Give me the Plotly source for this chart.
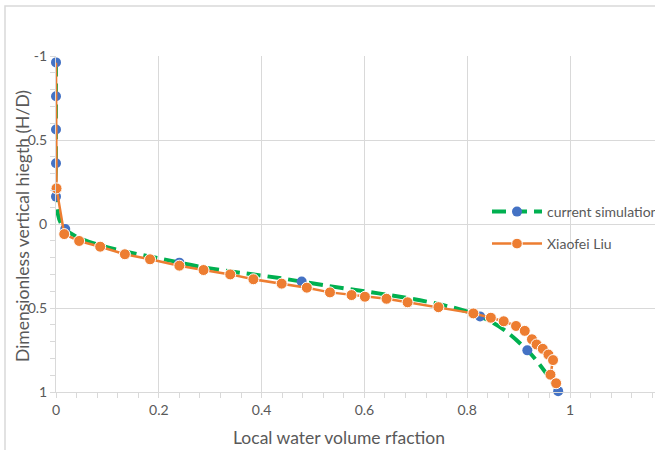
import plotly.graph_objects as go

# ---- data ----
sim_x = [0.0, 0.0, 0.0, 0.0, 0.0, 0.018, 0.24, 0.478, 0.825, 0.917, 0.977]
sim_y = [-0.962, -0.76, -0.562, -0.362, -0.163, 0.03, 0.23, 0.343, 0.55, 0.752, 0.995]

liu_x = [0.0, 0.001, 0.016, 0.045, 0.086, 0.134, 0.183, 0.24, 0.287, 0.339, 0.384,
         0.439, 0.488, 0.533, 0.575, 0.601, 0.643, 0.684, 0.744, 0.812, 0.846,
         0.871, 0.895, 0.912, 0.926, 0.935, 0.947, 0.958, 0.967, 0.962, 0.973]
liu_y = [-0.96, -0.212, 0.06, 0.101, 0.135, 0.18, 0.21, 0.248, 0.274, 0.30, 0.329,
         0.355, 0.379, 0.407, 0.423, 0.433, 0.445, 0.466, 0.495, 0.532, 0.558,
         0.579, 0.607, 0.636, 0.686, 0.717, 0.743, 0.777, 0.81, 0.897, 0.948]

series_names = ["current simulation", "Xiaofei Liu"]
x_tickvals = [0, 0.2, 0.4, 0.6, 0.8, 1]
x_ticktext = ["0", "0.2", "0.4", "0.6", "0.8", "1"]
y_tickvals = [-1, -0.5, 0, 0.5, 1]
y_ticktext = ["-1", "-0.5", "0", "0.5", "1"]
x_title = "Local water volume rfaction"
y_title = "Dimensionless vertical hiegth (H/D)"

FONT = "Lato"
TXT = "#595959"
GRID = "#D9D9D9"

W, H = 655, 450
ML, MR, MT, MB = 56, 0, 56, 58
PW = W - ML - MR
PH = H - MT - MB

def px_x(p):
    return (p - ML) / PW

def px_y(p):
    return (H - MB - p) / PH

fig = go.Figure()
fig.add_trace(go.Scatter(
    x=sim_x, y=sim_y, name=series_names[0], mode="lines+markers",
    line=dict(color="#00B050", width=4, dash="14px,7px", shape="spline"),
    marker=dict(color="#4472C4", size=10),
    cliponaxis=False, legend="legend",
))
liu_sizes = [0] + [11] * (len(liu_x) - 1)
fig.add_trace(go.Scatter(
    x=liu_x, y=liu_y, name=series_names[1], mode="lines+markers",
    line=dict(color="#ED7D31", width=2.5),
    marker=dict(color="#ED7D31", size=liu_sizes, opacity=1),
    cliponaxis=False, legend="legend2",
))

LEG_X = px_x(487)
fig.update_layout(
    width=W, height=H,
    margin=dict(l=ML, r=MR, t=MT, b=MB, autoexpand=False),
    paper_bgcolor="white", plot_bgcolor="white",
    font=dict(family=FONT, color=TXT, size=14),
    showlegend=True,
    legend=dict(x=LEG_X, y=px_y(212), xanchor="left", yanchor="middle",
                bgcolor="rgba(0,0,0,0)", font=dict(size=14, color=TXT),
                itemwidth=50),
    legend2=dict(x=LEG_X, y=px_y(244), xanchor="left", yanchor="middle",
                 bgcolor="rgba(0,0,0,0)", font=dict(size=14, color=TXT),
                 itemwidth=50),
)

fig.update_xaxes(
    range=[0, (W - ML) / 514.0], tickvals=x_tickvals, ticktext=x_ticktext,
    showgrid=True, gridcolor=GRID, gridwidth=1,
    showline=True, linecolor=GRID, linewidth=1,
    ticks="outside", ticklen=5, tickcolor=GRID,
    minor=dict(dtick=0.04, tick0=0, ticks="outside", ticklen=5, tickcolor=GRID, showgrid=False),
    zeroline=False, tickfont=dict(size=14, color=TXT),
)
fig.update_yaxes(
    range=[1, -1], tickvals=y_tickvals, ticktext=y_ticktext,
    showgrid=True, gridcolor=GRID, gridwidth=1,
    showline=True, linecolor=GRID, linewidth=1,
    ticks="outside", ticklen=5, tickcolor=GRID,
    minor=dict(dtick=0.1, tick0=0, ticks="outside", ticklen=5, tickcolor=GRID, showgrid=False),
    zeroline=False, tickfont=dict(size=14, color=TXT),
)

fig.add_annotation(text=y_title, xref="paper", yref="paper",
                   x=px_x(22), y=px_y(226), xanchor="center", yanchor="middle",
                   textangle=-90, showarrow=False, font=dict(size=17.5, color=TXT))
fig.add_annotation(text=x_title, xref="paper", yref="paper",
                   x=px_x(339), y=px_y(437), xanchor="center", yanchor="middle",
                   showarrow=False, font=dict(size=17.5, color=TXT))

# chart-area border
fig.add_shape(type="rect", xref="paper", yref="paper",
              x0=px_x(5), x1=px_x(700), y0=px_y(500), y1=px_y(6),
              line=dict(color=GRID, width=1.5), layer="below")

fig.write_html("out.html")
